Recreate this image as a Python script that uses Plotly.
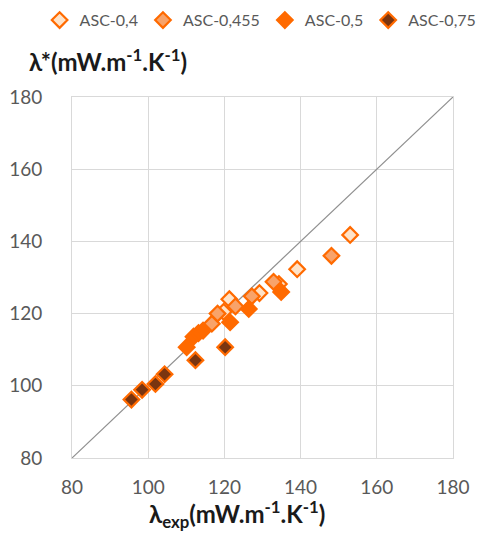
import plotly.graph_objects as go

# ASC-0,4
x_04 = [119.8, 121.3, 129.2, 134.3, 139.1, 153.0]
y_04 = [120.5, 124.0, 125.7, 128.2, 132.3, 141.8]
# ASC-0,455
x_0455 = [116.7, 118.2, 122.9, 127.2, 132.9, 148.1]
y_0455 = [117.2, 120.0, 122.0, 124.8, 128.8, 136.0]
# ASC-0,5
x_05 = [110.1, 111.9, 113.2, 114.4, 121.5, 126.4, 134.9]
y_05 = [110.7, 113.6, 114.6, 115.3, 117.6, 121.3, 126.0]
# ASC-0,75
x_075 = [95.6, 98.4, 101.9, 104.3, 112.4, 120.2]
y_075 = [96.2, 98.9, 100.5, 103.2, 107.1, 110.7]

diag = [80, 180]

FONT = "Lato"
ORANGE = "#FF6A00"

fig = go.Figure()
fig.add_trace(go.Scatter(x=diag, y=diag, mode="lines",
                         line=dict(color="#8f8f8f", width=1.2),
                         showlegend=False, hoverinfo="skip"))

series = [
    ("ASC-0,4", x_04, y_04, "#FFE3C8"),
    ("ASC-0,455", x_0455, y_0455, "#F8A36A"),
    ("ASC-0,5", x_05, y_05, ORANGE),
    ("ASC-0,75", x_075, y_075, "#7A3510"),
]
for name, xs, ys, fill in series:
    fig.add_trace(go.Scatter(
        x=xs, y=ys, mode="markers", name=name,
        marker=dict(symbol="diamond", size=12, color=fill,
                    line=dict(color=ORANGE, width=2.2)),
    ))

axis_common = dict(
    range=[80, 180], dtick=20, tick0=80,
    showgrid=True, gridcolor="#d9d9d9", gridwidth=1,
    showline=True, linecolor="#d9d9d9", linewidth=1, mirror=True,
    zeroline=False, ticks="", automargin=False,
    tickfont=dict(family=FONT, size=19, color="#595959"),
)

fig.update_layout(
    width=479, height=533,
    margin=dict(l=72, r=26, t=97, b=75, autoexpand=False),
    plot_bgcolor="white", paper_bgcolor="white",
    font=dict(family=FONT, color="#595959"),
    xaxis=dict(**axis_common, ticklabelstandoff=12),
    yaxis=dict(**axis_common, ticklabelstandoff=25),
    legend=dict(orientation="h", xref="paper", x=-0.085, xanchor="left",
                yref="paper", y=1.26, yanchor="top",
                font=dict(family=FONT, size=16, color="#595959"),
                itemwidth=30, tracegroupgap=0),
    annotations=[
        dict(text="<b>λ*(mW.m<sup>-1</sup>.K<sup>-1</sup>)</b>",
             xref="paper", yref="paper", x=-0.118, y=1.102,
             xanchor="left", yanchor="middle", showarrow=False,
             font=dict(family=FONT, size=24, color="#1a1a1a")),
        dict(text="<b>λ<sub>exp</sub>(mW.m<sup>-1</sup>.K<sup>-1</sup>)</b>",
             xref="paper", yref="paper", x=0.433, y=-0.155,
             xanchor="center", yanchor="middle", showarrow=False,
             font=dict(family=FONT, size=24, color="#1a1a1a")),
    ],
)

fig.write_html("out.html",
               config={"displayModeBar": False},
               post_script="document.body.style.margin='0';")
